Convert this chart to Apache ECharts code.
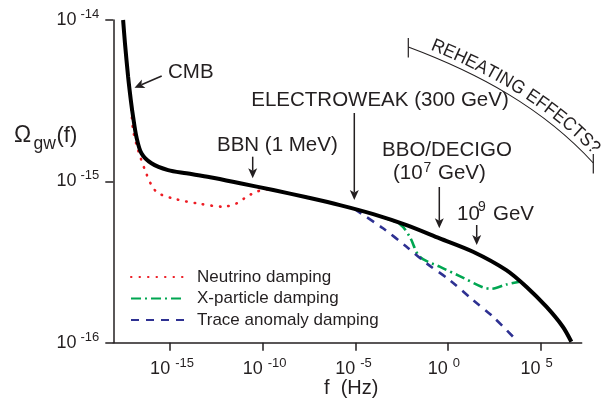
<!DOCTYPE html>
<html><head><meta charset="utf-8">
<script src="https://cdn.jsdelivr.net/npm/echarts@6/dist/echarts.min.js"></script>
<style>html,body{margin:0;padding:0;background:#fff}#c{width:607px;height:407px}</style>
</head><body><div id="c"></div>
<script>
// ---- data (log10 f [Hz], log10 Omega_gw) ----
const mainLogF = [-17.54,-17.44,-17.27,-17.12,-17.00,-16.82,-16.55,-16.01,-15.11,-14.12,-12.84,-11.22,-9.43,-7.63,-5.83,-4.03,-2.23,-0.44,1.36,3.16,4.24,5.32,6.21,6.67];
const mainLogOmega = [-14.0,-14.144,-14.352,-14.500,-14.600,-14.725,-14.826,-14.888,-14.930,-14.950,-14.975,-15.012,-15.054,-15.099,-15.147,-15.203,-15.271,-15.353,-15.436,-15.550,-15.653,-15.777,-15.901,-15.994];
const neutrinoLogF = [-17.12,-17.00,-16.73,-16.36,-16.01,-15.65,-14.64,-13.56,-12.13,-11.40,-10.86,-10.32,-9.78,-9.43];
const neutrinoLogOmega = [-14.500,-14.682,-14.806,-14.930,-15.023,-15.073,-15.112,-15.136,-15.157,-15.136,-15.095,-15.064,-15.050,-15.054];
const xparticleLogF = [-3.67,-2.59,-2.06,-1.52,-0.44,0.64,1.90,2.35,3.16,3.88];
const xparticleLogOmega = [-15.217,-15.265,-15.343,-15.467,-15.529,-15.587,-15.657,-15.666,-15.639,-15.622];
const traceLogF = [-5.02,-4.75,-3.50,-2.23,-1.15,0.10,1.36,2.44,3.70];
const traceLogOmega = [-15.172,-15.194,-15.291,-15.405,-15.508,-15.612,-15.736,-15.839,-15.984];
const xTickExps = [-15,-10,-5,0,5];
const yTickExps = [-16,-15,-14];
const legendNames = ['Neutrino damping','X-particle damping','Trace anomaly damping'];
const xRange = [-18.07, 7.23];
const yRange = [-16, -14];

const INK = '#231f20';
const FONT = "'Liberation Sans', Arial, Helvetica, sans-serif";
const pairs = (xs, ys) => xs.map((x, i) => [x, ys[i]]);

function txt(x, y, s, size, align) {
  return {type:'text', x:x, y:y, silent:true, z:10,
    style:{text:s, fill:INK, font: size + 'px ' + FONT, fontSize:size, fontFamily:FONT,
      align: align || 'left', textAlign: align || 'left', verticalAlign:'middle', textVerticalAlign:'middle'}};
}
function arrow(x1, y1, x2, y2) {
  const L = 10, W = 4.5, N = 2.5;
  const dx = x2 - x1, dy = y2 - y1, len = Math.hypot(dx, dy), ux = dx / len, uy = dy / len, px = -uy, py = ux;
  const bx = x2 - ux * L, by = y2 - uy * L, nx = x2 - ux * (L - N), ny = y2 - uy * (L - N);
  return [
    {type:'line', silent:true, z:10, shape:{x1:x1, y1:y1, x2:nx, y2:ny}, style:{stroke:INK, lineWidth:1.5}},
    {type:'polygon', silent:true, z:10, shape:{points:[[x2,y2],[bx+px*W,by+py*W],[nx,ny],[bx-px*W,by-py*W]]}, style:{fill:INK}}
  ];
}

// curved "REHEATING EFFECTS?" label
function curvedLabel() {
  const P0 = [408.3, 47], P1 = [478, 73], P2 = [543, 108], P3 = [593.3, 163];
  const bez = t => { const u = 1 - t; return [
    u*u*u*P0[0] + 3*u*u*t*P1[0] + 3*u*t*t*P2[0] + t*t*t*P3[0],
    u*u*u*P0[1] + 3*u*u*t*P1[1] + 3*u*t*t*P2[1] + t*t*t*P3[1]]; };
  const pts = [], cum = [0];
  for (let i = 0; i <= 600; i++) pts.push(bez(i / 600));
  for (let i = 1; i < pts.length; i++) cum.push(cum[i-1] + Math.hypot(pts[i][0]-pts[i-1][0], pts[i][1]-pts[i-1][1]));
  const sAtX = x => { for (let i = 0; i < pts.length; i++) if (pts[i][0] >= x) return cum[i]; return cum[cum.length-1]; };
  const at = s => { let i = 1; while (i < cum.length - 1 && cum[i] < s) i++;
    const f = (s - cum[i-1]) / (cum[i] - cum[i-1] || 1);
    const x = pts[i-1][0] + f * (pts[i][0] - pts[i-1][0]), y = pts[i-1][1] + f * (pts[i][1] - pts[i-1][1]);
    const dx = pts[i][0] - pts[i-1][0], dy = pts[i][1] - pts[i-1][1], l = Math.hypot(dx, dy);
    return {x:x, y:y, tx:dx/l, ty:dy/l}; };
  const out = [];
  out.push({type:'bezierCurve', silent:true, z:10,
    shape:{x1:P0[0], y1:P0[1], cpx1:P1[0], cpy1:P1[1], cpx2:P2[0], cpy2:P2[1], x2:P3[0], y2:P3[1]},
    style:{stroke:INK, lineWidth:1.1, fill:null}});
  out.push({type:'line', silent:true, z:10, shape:{x1:408.3, y1:38, x2:408.3, y2:57.5}, style:{stroke:INK, lineWidth:1.2}});
  out.push({type:'line', silent:true, z:10, shape:{x1:593.3, y1:154, x2:593.3, y2:173.5}, style:{stroke:INK, lineWidth:1.2}});
  const text = 'REHEATING EFFECTS?', size = 18.5;
  const ctx = document.createElement('canvas').getContext('2d');
  ctx.font = size + 'px ' + FONT;
  const ws = text.split('').map(c => ctx.measureText(c).width);
  const total = ws.reduce((a, b) => a + b, 0);
  const s0 = sAtX(428), s1 = sAtX(589);
  const k = (s1 - s0) / total;
  let acc = 0;
  text.split('').forEach((c, i) => {
    const s = s0 + k * (acc + ws[i] / 2); acc += ws[i];
    const p = at(s), nx = p.ty, ny = -p.tx, off = 1.2;
    out.push({type:'text', silent:true, z:10, x:p.x + nx*off, y:p.y + ny*off, rotation:-Math.atan2(p.ty, p.tx), scaleX:Math.min(1, k),
      style:{text:c, fill:INK, font:size + 'px ' + FONT, fontSize:size, fontFamily:FONT, align:'center', textAlign:'center', verticalAlign:'bottom', textVerticalAlign:'bottom'}});
  });
  return out;
}

const chart = echarts.init(document.getElementById('c'), null, {renderer:'canvas'});
const A = 20.5;
const graphics = [].concat(
  [txt(14, 135.5, 'Ω', 23), txt(33.5, 144, 'gw', 17.5), txt(56.5, 136, '(f)', 22)],
  [txt(324, 388, 'f  (Hz)', 20)],
  [txt(168, 72.5, 'CMB', A)], arrow(161.7, 76, 134.5, 87.7),
  [txt(380, 100, 'ELECTROWEAK (300 GeV)', A, 'center')], arrow(354.3, 113, 354.3, 200),
  [txt(217, 145, 'BBN (1 MeV)', A)], arrow(252.7, 156.7, 252.7, 178.3),
  [txt(447, 150, 'BBO/DECIGO', A, 'center'), txt(393, 173.3, '(10', A), txt(423.5, 168.5, '7', 14), txt(438, 173.3, 'GeV)', A)],
  arrow(439.3, 187, 439.3, 228.3),
  [txt(457, 214, '10', A), txt(478, 207.5, '9', 14), txt(493, 214, 'GeV', A)], arrow(476.7, 225, 476.7, 245),
  curvedLabel()
);

const axisLineStyle = {color:INK, width:1.5};
const lineSeries = (name, xs, ys, color, width, type, z, cap) => ({
  type:'line', name:name, data:pairs(xs, ys), symbol:'none', smooth:0.3, silent:true, z:z,
  lineStyle:{color:color, width:width, type:type, cap:cap || 'butt'}, itemStyle:{color:color}
});
chart.setOption({
  animation:false,
  backgroundColor:'#fff',
  grid:{left:113.3, right:25.3, top:20, bottom:64.3, containLabel:false},
  legend:{orient:'vertical', left:130, top:268.5, padding:0, itemWidth:53, itemHeight:17, itemGap:4.5,
    data:legendNames, selectedMode:false, itemStyle:{opacity:0},
    textStyle:{fontSize:17, color:INK, fontFamily:FONT, padding:[0,0,0,8]}},
  xAxis:[
    {type:'value', position:'bottom', min:xRange[0], max:xRange[1],
      axisLine:{show:true, onZero:false, lineStyle:axisLineStyle},
      axisTick:{show:true, customValues:xTickExps, length:8, lineStyle:axisLineStyle},
      axisLabel:{customValues:xTickExps, formatter:() => '10', align:'right', verticalAlign:'top', margin:17,
        fontSize:18, lineHeight:18, color:INK, fontFamily:FONT},
      splitLine:{show:false}},
    {type:'value', position:'bottom', min:xRange[0], max:xRange[1],
      axisLine:{show:false, onZero:false}, axisTick:{show:false},
      axisLabel:{customValues:xTickExps, formatter:v => String(v), align:'left', verticalAlign:'top', margin:14.5,
        fontSize:13, lineHeight:13, padding:[0,0,0,5], color:INK, fontFamily:FONT},
      splitLine:{show:false}}
  ],
  yAxis:{type:'value', min:yRange[0], max:yRange[1], interval:1,
    axisLine:{show:true, onZero:false, lineStyle:axisLineStyle},
    axisTick:{show:true, length:8, lineStyle:axisLineStyle},
    axisLabel:{margin:14, formatter:v => '{b|10}{s|' + v + '}',
      rich:{b:{fontSize:18, fontFamily:FONT, color:INK, lineHeight:24},
            s:{fontSize:13, fontFamily:FONT, color:INK, lineHeight:14, verticalAlign:'top', padding:[0,0,0,4]}}},
    splitLine:{show:false}},
  series:[
    lineSeries(legendNames[0], neutrinoLogF, neutrinoLogOmega, '#ED1C24', 2.6, [0.5, 8], 2, 'round'),
    lineSeries(legendNames[1], xparticleLogF, xparticleLogOmega, '#00A651', 2.6, [10, 4, 2, 4], 2),
    lineSeries(legendNames[2], traceLogF, traceLogOmega, '#2E3192', 2.6, [8, 7], 2),
    lineSeries('Omega', mainLogF, mainLogOmega, '#000', 4, 'solid', 5)
  ],
  graphic:graphics
});
</script>
</body></html>
